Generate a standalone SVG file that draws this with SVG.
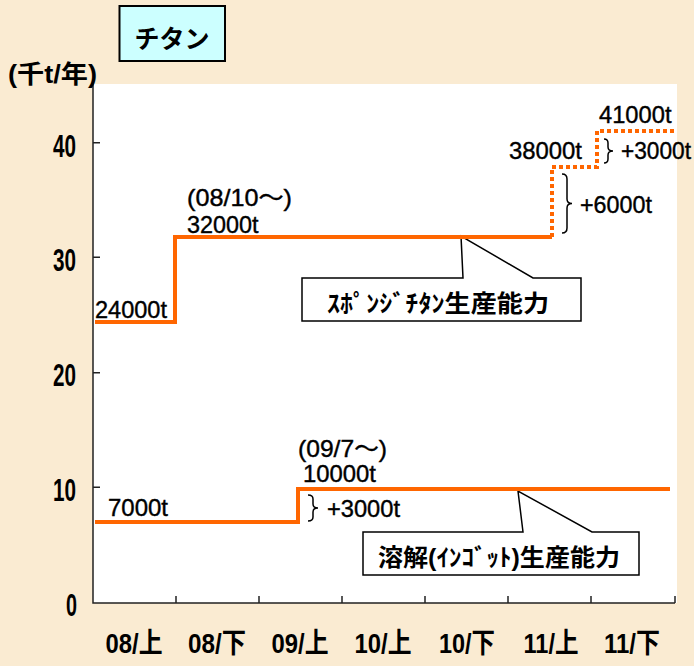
<svg xmlns="http://www.w3.org/2000/svg" width="694" height="666" viewBox="0 0 694 666">
<defs>
<style>
.t{font-family:"Liberation Sans","Noto Sans CJK JP",sans-serif;fill:#000}
.num{font-size:24px;stroke:#000;stroke-width:0.4}
.b{font-weight:bold}
.ax{stroke:#222;stroke-width:1.5;fill:none}
.sol{stroke:#FF6600;stroke-width:4;fill:none}
.dot{stroke:#FF6600;stroke-width:4;fill:none;stroke-dasharray:4 3}
.br{stroke:#000;stroke-width:1.5;fill:none}
.co{fill:#fff;stroke:#000;stroke-width:1.5}
</style>
</defs>
<rect x="0" y="0" width="694" height="666" fill="#FAEBD2"/>
<rect x="93" y="84" width="584" height="519" fill="#fff"/>

<g id="title">
<rect x="119.5" y="6" width="105.5" height="55" fill="#CCFFFF" stroke="#000" stroke-width="2"/>
<text class="t b" x="172" y="48" font-size="25" text-anchor="middle">チタン</text>
</g>

<g id="axes">
<path class="ax" d="M93,84 V603 H675"/>
<path class="ax" d="M93,142.7 H100 M93,257.3 H100 M93,372.7 H100 M93,487.3 H100"/>
<path class="ax" d="M176,603 V596 M259,603 V596 M342,603 V596 M425,603 V596 M508,603 V596 M591,603 V596 M675,603 V596"/>
<text class="t b" x="8" y="83" font-size="25" textLength="89" lengthAdjust="spacingAndGlyphs">(千t/年)</text>
<g class="t b" font-size="31" text-anchor="end">
<text x="76" y="157" textLength="23" lengthAdjust="spacingAndGlyphs">40</text>
<text x="76" y="271" textLength="23" lengthAdjust="spacingAndGlyphs">30</text>
<text x="76" y="386" textLength="23" lengthAdjust="spacingAndGlyphs">20</text>
<text x="76" y="501" textLength="23" lengthAdjust="spacingAndGlyphs">10</text>
<text x="77" y="616" textLength="11" lengthAdjust="spacingAndGlyphs">0</text>
</g>
<g class="t b" font-size="28" text-anchor="middle">
<text x="134" y="653" textLength="57" lengthAdjust="spacingAndGlyphs">08/上</text>
<text x="217" y="653" textLength="58" lengthAdjust="spacingAndGlyphs">08/下</text>
<text x="300" y="653" textLength="57" lengthAdjust="spacingAndGlyphs">09/上</text>
<text x="383" y="653" textLength="57" lengthAdjust="spacingAndGlyphs">10/上</text>
<text x="467" y="653" textLength="56" lengthAdjust="spacingAndGlyphs">10/下</text>
<text x="551" y="653" textLength="55" lengthAdjust="spacingAndGlyphs">11/上</text>
<text x="632" y="653" textLength="56" lengthAdjust="spacingAndGlyphs">11/下</text>
</g>
</g>

<g id="callout-sponge">
<path class="co" d="M463,278 L461,236 L533,278 H581 V321 H302 V278 Z"/>
<text class="t b" x="327" y="312" font-size="24" textLength="222" lengthAdjust="spacingAndGlyphs">ｽﾎﾟﾝｼﾞﾁﾀﾝ生産能力</text>
</g>

<g id="callout-ingot">
<path class="co" d="M523,532 L518,491 L592,532 H639 V575 H363 V532 Z"/>
<text class="t b" x="378" y="566" font-size="24" textLength="242" lengthAdjust="spacingAndGlyphs">溶解(ｲﾝｺﾞｯﾄ)生産能力</text>
</g>

<g id="connectors">
<path class="sol" d="M95,322 H175 V237 H552"/>
<path class="dot" d="M552,237 V167 H597 V131 H677"/>
<path class="sol" d="M95,522 H298 V489 H670"/>
<path class="br" d="M562,174 Q567,174 567,179 V199 Q567,203.5 572,203.5 Q567,203.5 567,208 V228 Q567,233 562,233"/>
<path class="br" d="M604,139 Q608,139 608,143 V147 Q608,151 613,151 Q608,151 608,155 V159 Q608,163 604,163"/>
<path class="br" d="M308,495 Q313,495 313,499 V504 Q313,508 318,508 Q313,508 313,512 V517 Q313,521 308,521"/>
</g>

<g id="labels" class="t num">
<text x="95" y="318" textLength="72" lengthAdjust="spacingAndGlyphs">24000t</text>
<text x="187" y="206" textLength="105" lengthAdjust="spacingAndGlyphs">(08/10～)</text>
<text x="187" y="233" textLength="71.5" lengthAdjust="spacingAndGlyphs">32000t</text>
<text x="509" y="159" textLength="73" lengthAdjust="spacingAndGlyphs">38000t</text>
<text x="599" y="123" textLength="72.5" lengthAdjust="spacingAndGlyphs">41000t</text>
<text x="621" y="159" textLength="70" lengthAdjust="spacingAndGlyphs">+3000t</text>
<text x="580" y="213" textLength="72" lengthAdjust="spacingAndGlyphs">+6000t</text>
<text x="108" y="516" textLength="60" lengthAdjust="spacingAndGlyphs">7000t</text>
<text x="298" y="457" textLength="89" lengthAdjust="spacingAndGlyphs">(09/7～)</text>
<text x="303" y="482" textLength="73" lengthAdjust="spacingAndGlyphs">10000t</text>
<text x="327" y="517" textLength="73" lengthAdjust="spacingAndGlyphs">+3000t</text>
</g>
</svg>
